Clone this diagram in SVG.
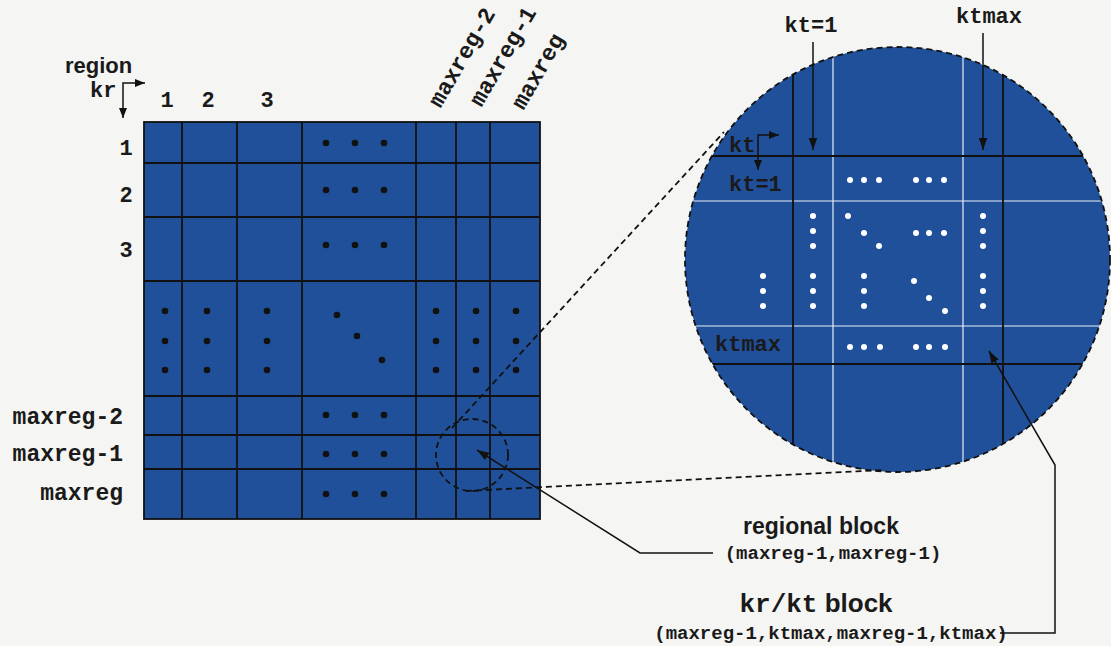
<svg xmlns="http://www.w3.org/2000/svg" width="1111" height="646" viewBox="0 0 1111 646">
<style>
.sans{font-family:"Liberation Sans",Arial,sans-serif;font-weight:bold;fill:#1a1a1a}
.mono{font-family:"Liberation Mono","Courier New",monospace;font-weight:bold;fill:#1a1a1a}
.grid{stroke:#111;stroke-width:1.8;fill:none}
.wgrid{stroke:#e8eef6;stroke-width:1.2;fill:none}
.dash{stroke:#111;stroke-width:1.8;fill:none;stroke-dasharray:6,4}
.conn{stroke:#111;stroke-width:1.5;fill:none}
.bd{fill:#111}
.wd{fill:#fff}
</style>
<defs>
<marker id="ah" viewBox="0 0 10 10" refX="10" refY="5" markerWidth="12" markerHeight="10" orient="auto-start-reverse" markerUnits="userSpaceOnUse">
<path d="M0,1 L10,5 L0,9 z" fill="#111"/>
</marker>
<marker id="ahb" viewBox="0 0 10 10" refX="10" refY="5" markerWidth="18" markerHeight="12" orient="auto" markerUnits="userSpaceOnUse">
<path d="M0,1.5 L10,5 L0,8.5 z" fill="#111"/>
</marker>
<clipPath id="cc"><circle cx="897.5" cy="259.5" r="212.5"/></clipPath>
</defs>
<rect width="1111" height="646" fill="#f5f5f3"/>

<g id="matrix">
<rect x="144" y="122" width="396" height="397" fill="#20509a"/>
<path class="grid" d="M182,122V519M237,122V519M302,122V519M416,122V519M456,122V519M490,122V519M144,163H540M144,217H540M144,281H540M144,396H540M144,435H540M144,469H540"/>
<rect class="grid" x="144" y="122" width="396" height="397"/>
<g class="bd">
<circle cx="326" cy="143" r="3.3"/><circle cx="355" cy="143" r="3.3"/><circle cx="384" cy="143" r="3.3"/>
<circle cx="326" cy="190" r="3.3"/><circle cx="355" cy="190" r="3.3"/><circle cx="384" cy="190" r="3.3"/>
<circle cx="326" cy="245" r="3.3"/><circle cx="355" cy="245" r="3.3"/><circle cx="384" cy="245" r="3.3"/>
<circle cx="326" cy="415" r="3.3"/><circle cx="355" cy="415" r="3.3"/><circle cx="384" cy="415" r="3.3"/>
<circle cx="326" cy="454" r="3.3"/><circle cx="355" cy="454" r="3.3"/><circle cx="384" cy="454" r="3.3"/>
<circle cx="326" cy="494" r="3.3"/><circle cx="355" cy="494" r="3.3"/><circle cx="384" cy="494" r="3.3"/>
<circle cx="165" cy="311" r="3.3"/><circle cx="165" cy="341" r="3.3"/><circle cx="165" cy="370" r="3.3"/>
<circle cx="207" cy="311" r="3.3"/><circle cx="207" cy="341" r="3.3"/><circle cx="207" cy="370" r="3.3"/>
<circle cx="267" cy="311" r="3.3"/><circle cx="267" cy="341" r="3.3"/><circle cx="267" cy="370" r="3.3"/>
<circle cx="337" cy="315" r="3.3"/><circle cx="357" cy="336" r="3.3"/><circle cx="382" cy="360" r="3.3"/>
<circle cx="436" cy="311" r="3.3"/><circle cx="436" cy="341" r="3.3"/><circle cx="436" cy="370" r="3.3"/>
<circle cx="476" cy="311" r="3.3"/><circle cx="476" cy="341" r="3.3"/><circle cx="476" cy="370" r="3.3"/>
<circle cx="516" cy="311" r="3.3"/><circle cx="516" cy="341" r="3.3"/><circle cx="516" cy="370" r="3.3"/>
</g>
</g>

<g id="axis-labels">
<text class="sans" x="65" y="73" font-size="22">region</text>
<text class="mono" x="90" y="97" font-size="22">kr</text>
<path class="conn" d="M123,118V83H145" marker-start="url(#ah)" marker-end="url(#ah)"/>
<text class="mono" x="167" y="107" font-size="22" text-anchor="middle">1</text>
<text class="mono" x="208" y="107" font-size="22" text-anchor="middle">2</text>
<text class="mono" x="267" y="107" font-size="22" text-anchor="middle">3</text>
<text class="mono" x="126" y="155" font-size="22" text-anchor="middle">1</text>
<text class="mono" x="126" y="202" font-size="22" text-anchor="middle">2</text>
<text class="mono" x="126" y="257" font-size="22" text-anchor="middle">3</text>
<text class="mono" x="123" y="424" font-size="23" text-anchor="end">maxreg-2</text>
<text class="mono" x="123" y="461" font-size="23" text-anchor="end">maxreg-1</text>
<text class="mono" x="123" y="500" font-size="23" text-anchor="end">maxreg</text>
<text class="mono" font-size="23" text-anchor="middle" transform="translate(463,58) rotate(-60)" y="6">maxreg-2</text>
<text class="mono" font-size="23" text-anchor="middle" transform="translate(504,57) rotate(-60)" y="6">maxreg-1</text>
<text class="mono" font-size="23" text-anchor="middle" transform="translate(539,72) rotate(-60)" y="6">maxreg</text>
</g>

<g id="zoom-circle">
<circle cx="897.5" cy="259.5" r="212.5" fill="#20509a"/>
<g clip-path="url(#cc)">
<path class="wgrid" d="M833,40V480M963,40V480M680,201H1115M680,326H1115"/>
<path class="grid" d="M793,40V480M1003,40V480M680,156H1115M680,364H1115"/>
</g>
<circle class="dash" cx="897.5" cy="259.5" r="212.5" stroke-dasharray="5,3"/>
<g class="wd">
<circle cx="850" cy="180" r="3"/><circle cx="864" cy="180" r="3"/><circle cx="879" cy="180" r="3"/>
<circle cx="916" cy="180" r="3"/><circle cx="929" cy="180" r="3"/><circle cx="944" cy="180" r="3"/>
<circle cx="850" cy="347" r="3"/><circle cx="864" cy="347" r="3"/><circle cx="880" cy="347" r="3"/>
<circle cx="916" cy="347" r="3"/><circle cx="929" cy="347" r="3"/><circle cx="945" cy="347" r="3"/>
<circle cx="813" cy="216" r="3"/><circle cx="813" cy="231" r="3"/><circle cx="813" cy="246" r="3"/>
<circle cx="813" cy="276" r="3"/><circle cx="813" cy="291" r="3"/><circle cx="813" cy="306" r="3"/>
<circle cx="763" cy="276" r="3"/><circle cx="763" cy="291" r="3"/><circle cx="763" cy="306" r="3"/>
<circle cx="848" cy="216" r="3"/><circle cx="864" cy="233" r="3"/><circle cx="879" cy="246" r="3"/>
<circle cx="916" cy="233" r="3"/><circle cx="929" cy="233" r="3"/><circle cx="944" cy="233" r="3"/>
<circle cx="864" cy="276" r="3"/><circle cx="864" cy="291" r="3"/><circle cx="864" cy="306" r="3"/>
<circle cx="914" cy="281" r="3"/><circle cx="929" cy="298" r="3"/><circle cx="945" cy="311" r="3"/>
<circle cx="983" cy="216" r="3"/><circle cx="983" cy="231" r="3"/><circle cx="983" cy="246" r="3"/>
<circle cx="983" cy="276" r="3"/><circle cx="983" cy="291" r="3"/><circle cx="983" cy="306" r="3"/>
</g>
<text class="mono" x="729" y="152" font-size="22">kt</text>
<path class="conn" d="M758,170V135H779" marker-start="url(#ah)" marker-end="url(#ah)"/>
<text class="mono" x="729" y="191" font-size="22">kt=1</text>
<text class="mono" x="715" y="351" font-size="22">ktmax</text>
<text class="mono" x="811" y="32" font-size="22" text-anchor="middle">kt=1</text>
<text class="mono" x="989" y="23" font-size="22" text-anchor="middle">ktmax</text>
</g>

<g id="labels">
<text class="sans" x="821" y="534" font-size="23" text-anchor="middle">regional block</text>
<text class="mono" x="833" y="559" font-size="19" text-anchor="middle">(maxreg-1,maxreg-1)</text>
<text x="816" y="612" font-size="26" text-anchor="middle"><tspan class="mono">kr/kt</tspan><tspan class="sans"> block</tspan></text>
<text class="mono" x="831" y="639" font-size="19" text-anchor="middle">(maxreg-1,ktmax,maxreg-1,ktmax)</text>
</g>

<g id="connectors">
<ellipse class="dash" cx="472" cy="455" rx="36" ry="36"/>
<line class="dash" x1="452" y1="428" x2="724" y2="132"/>
<line class="dash" x1="466" y1="491" x2="882" y2="470"/>
<path class="conn" d="M813,42V150" marker-end="url(#ahb)"/>
<path class="conn" d="M983,33V150" marker-end="url(#ahb)"/>
<path class="conn" d="M713,553H640L477,450" marker-end="url(#ahb)"/>
<path class="conn" d="M1000,633H1055V465L989,351" marker-end="url(#ahb)"/>
</g>
</svg>
